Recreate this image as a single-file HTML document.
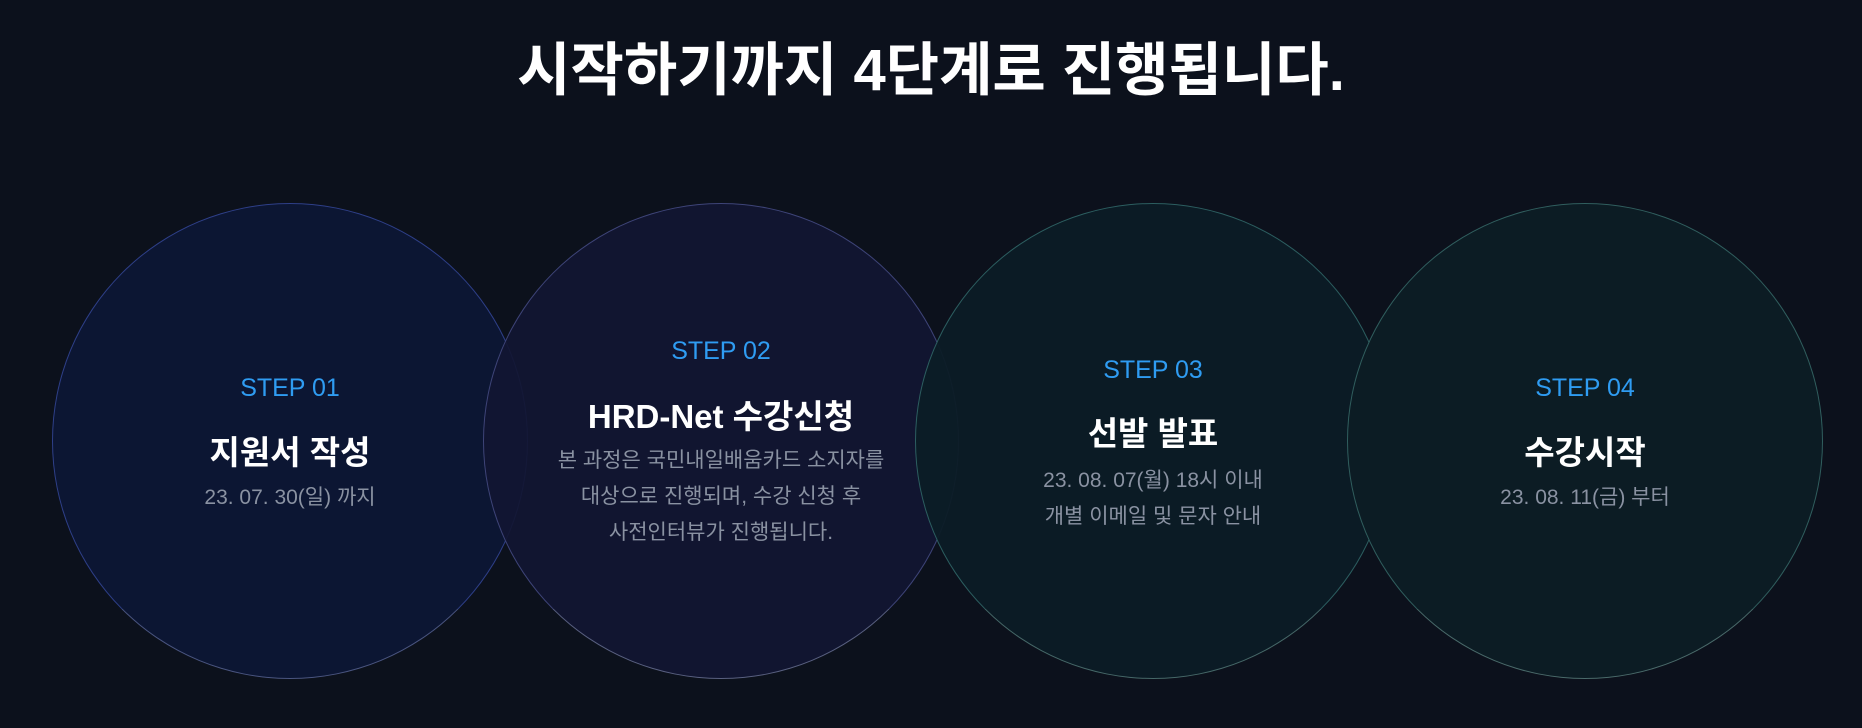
<!DOCTYPE html>
<html><head><meta charset="utf-8"><style>
html,body{margin:0;padding:0;background:#0c111c;width:1862px;height:728px;overflow:hidden;font-family:"Liberation Sans","Noto Sans CJK KR",sans-serif;}
h1{position:absolute;left:0;width:1862px;top:36px;margin:0;text-align:center;color:#fff;font-size:58px;font-weight:700;letter-spacing:0px;line-height:70px;}
.c{position:absolute;width:476px;height:476px;border-radius:50%;top:203px;box-sizing:border-box;}
.c1{left:52px;background:#0c1633;border:1.5px solid #2e3f88;border-bottom-color:#4a5580;}
.c2{left:483px;background:rgba(18,22,50,0.92);border:1.5px solid #3e4478;border-bottom-color:#596080;}
.c3{left:915px;background:rgba(12,28,38,0.95);border:1.5px solid #2c5e60;border-bottom-color:#466868;}
.c4{left:1347px;background:#0c1c24;border:1.5px solid #305e5e;border-bottom-color:#4a6a6a;}
.t{position:absolute;width:476px;text-align:center;}
.s{color:#2f9cf2;font-size:25px;}
.h{color:#fff;font-size:33px;font-weight:700;}
.d{color:#8a92a2;font-size:21px;line-height:36px;}
</style></head><body>
<h1>시작하기까지 4단계로 진행됩니다.</h1>
<div class="c c1"></div><div class="c c2"></div><div class="c c3"></div><div class="c c4"></div>

<div class="t s" style="left:52px;top:374px">STEP 01</div>
<div class="t h" style="left:52px;top:426px">지원서 작성</div>
<div class="t d" style="left:52px;top:480px">23. 07. 30(일) 까지</div>

<div class="t s" style="left:483px;top:337px">STEP 02</div>
<div class="t h" style="left:483px;top:390px">HRD-Net 수강신청</div>
<div class="t d" style="left:483px;top:443px">본 과정은 국민내일배움카드 소지자를<br>대상으로 진행되며, 수강 신청 후<br>사전인터뷰가 진행됩니다.</div>

<div class="t s" style="left:915px;top:356px">STEP 03</div>
<div class="t h" style="left:915px;top:407px">선발 발표</div>
<div class="t d" style="left:915px;top:463px">23. 08. 07(월) 18시 이내<br>개별 이메일 및 문자 안내</div>

<div class="t s" style="left:1347px;top:374px">STEP 04</div>
<div class="t h" style="left:1347px;top:426px">수강시작</div>
<div class="t d" style="left:1347px;top:480px">23. 08. 11(금) 부터</div>
</body></html>
